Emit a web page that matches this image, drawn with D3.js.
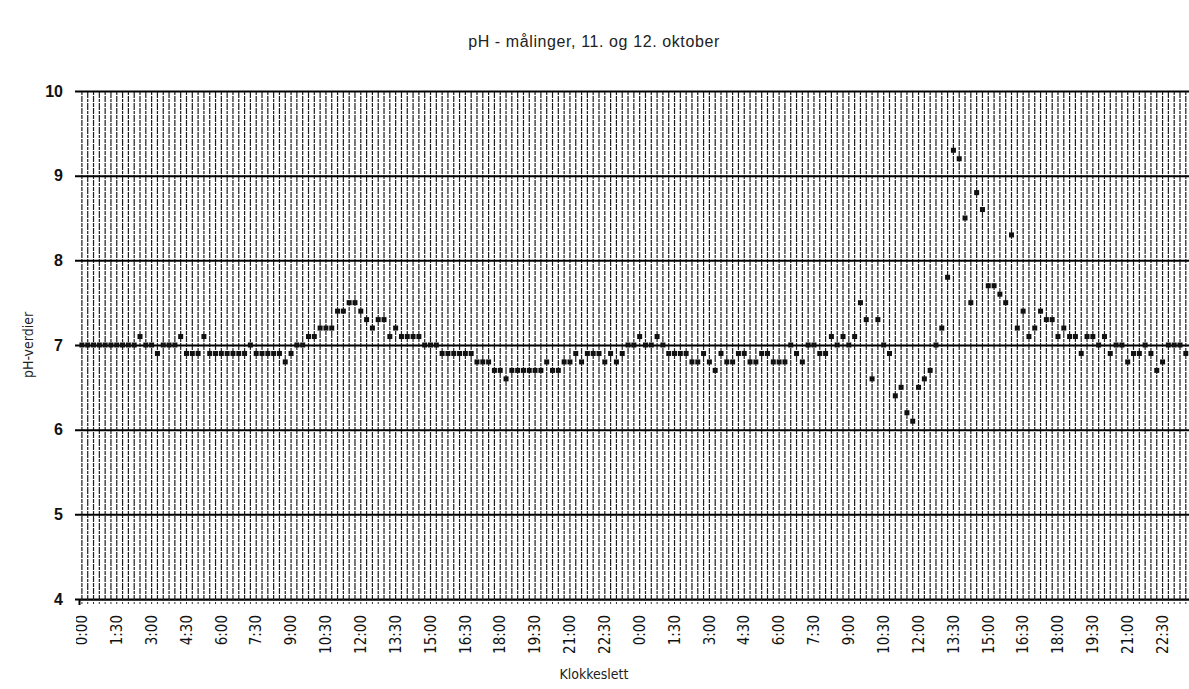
<!DOCTYPE html>
<html>
  <head>
    <title>pH - målinger</title>
    <script src="https://d3js.org/d3.v7.min.js"></script>
    <style>
      body { margin: 0; background: #fff; }
      .cond { font-family: "Liberation Sans Narrow", "DejaVu Sans Condensed", "Arial Narrow", sans-serif; }
    </style>
  </head>
  <body>
    <div id="vis"></div>
    <script>
      // tick labels on the time axis (every 1:30, two days)
      var tickLabels = ["0:00","1:30","3:00","4:30","6:00","7:30","9:00","10:30","12:00","13:30","15:00","16:30",
                        "18:00","19:30","21:00","22:30"];
      var yTicks = [4, 5, 6, 7, 8, 9, 10];

      // pH readings every 15 min, 11. oktober (0:00 - 23:45)
      var day1Values = [7.0,7.0,7.0,7.0,7.0,7.0,7.0,7.0,7.0,7.0,7.1,7.0,7.0,6.9,7.0,7.0,
                        7.0,7.1,6.9,6.9,6.9,7.1,6.9,6.9,6.9,6.9,6.9,6.9,6.9,7.0,6.9,6.9,
                        6.9,6.9,6.9,6.8,6.9,7.0,7.0,7.1,7.1,7.2,7.2,7.2,7.4,7.4,7.5,7.5,
                        7.4,7.3,7.2,7.3,7.3,7.1,7.2,7.1,7.1,7.1,7.1,7.0,7.0,7.0,6.9,6.9,
                        6.9,6.9,6.9,6.9,6.8,6.8,6.8,6.7,6.7,6.6,6.7,6.7,6.7,6.7,6.7,6.7,
                        6.8,6.7,6.7,6.8,6.8,6.9,6.8,6.9,6.9,6.9,6.8,6.9,6.8,6.9,7.0,7.0];
      // 12. oktober (0:00 - 23:30)
      var day2Values = [7.1,7.0,7.0,7.1,7.0,6.9,6.9,6.9,6.9,6.8,6.8,6.9,6.8,6.7,6.9,6.8,
                        6.8,6.9,6.9,6.8,6.8,6.9,6.9,6.8,6.8,6.8,7.0,6.9,6.8,7.0,7.0,6.9,
                        6.9,7.1,7.0,7.1,7.0,7.1,7.5,7.3,6.6,7.3,7.0,6.9,6.4,6.5,6.2,6.1,
                        6.5,6.6,6.7,7.0,7.2,7.8,9.3,9.2,8.5,7.5,8.8,8.6,7.7,7.7,7.6,7.5,
                        8.3,7.2,7.4,7.1,7.2,7.4,7.3,7.3,7.1,7.2,7.1,7.1,6.9,7.1,7.1,7.0,
                        7.1,6.9,7.0,7.0,6.8,6.9,6.9,7.0,6.9,6.7,6.8,7.0,7.0,7.0,6.9];

      var width = 1189;
      var height = 689;

      // category list: "d1-0:00" ... "d2-23:45"
      var times = [];
      ["d1", "d2"].forEach(function(day) {
        for (var m = 0; m < 24 * 60; m += 15) {
          times.push(day + "-" + Math.floor(m / 60) + ":" + (m % 60 === 0 ? "00" : m % 60));
        }
      });

      var data = [];
      day1Values.forEach(function(v, i) { data.push({ t: times[i], ph: v }); });
      day2Values.forEach(function(v, i) { data.push({ t: times[96 + i], ph: v }); });

      var svg = d3.select("#vis")
        .append("svg")
        .attr("width", width)
        .attr("height", height)
        .style("font-family", "Arial, 'Liberation Sans', sans-serif");

      var plotLeft = 79, plotTop = 91, plotBottom = 599;
      var step = 5.81;

      var x = d3.scaleBand()
        .domain(times)
        .range([plotLeft, plotLeft + times.length * step]);

      var y = d3.scaleLinear()
        .domain([4, 10])
        .range([plotBottom, plotTop]);

      var cx = function(t) { return x(t) + x.bandwidth() / 2; };

      svg.append("defs").append("clipPath").attr("id", "plotclip")
        .append("rect").attr("x", plotLeft - 3).attr("y", 0).attr("width", width - plotLeft + 3).attr("height", height);

      // vertical grid, one per reading
      svg.append("g")
        .attr("clip-path", "url(#plotclip)")
        .selectAll("line.vg")
        .data(times)
        .enter()
        .append("line")
        .attr("x1", cx).attr("x2", cx)
        .attr("y1", plotTop).attr("y2", plotBottom)
        .attr("stroke", "#1e1e1e")
        .attr("stroke-width", 1.2)
        .attr("stroke-dasharray", function(d, i) { return i % 2 ? "7,1,3,1" : "4,1,6,1"; });

      // horizontal grid + y labels
      var yAxis = svg.append("g")
        .attr("transform", "translate(" + plotLeft + ",0)")
        .call(d3.axisLeft(y).tickValues(yTicks).tickSize(-(width - plotLeft)).tickPadding(16).tickFormat(d3.format("d")));
      yAxis.select(".domain").remove();
      yAxis.selectAll(".tick line")
        .attr("x1", -4)
        .attr("stroke", "#000")
        .attr("stroke-width", 2);
      yAxis.selectAll(".tick text")
        .attr("fill", "#111")
        .style("font-size", "16px")
        .style("font-weight", "bold");

      // x axis with a tick for every reading
      var xAxis = svg.append("g")
        .attr("transform", "translate(0," + plotBottom + ")")
        .attr("clip-path", "url(#plotclip)")
        .call(d3.axisBottom(x).tickSize(6).tickPadding(8).tickFormat(function(d, i) {
          return i % 6 === 0 ? tickLabels[(i / 6) % 16] : "";
        }));
      xAxis.select(".domain").attr("stroke", "#000").attr("stroke-width", 2);
      xAxis.selectAll(".tick line").attr("stroke", "#333").attr("stroke-dasharray", "2,1");
      xAxis.selectAll(".tick text")
        .attr("class", "cond")
        .attr("fill", "#111")
        .style("font-size", "15px")
        .attr("transform", "rotate(-90)")
        .attr("text-anchor", "end")
        .attr("dy", "0.35em")
        .attr("y", 0)
        .attr("x", -16);

      // readings
      svg.append("g")
        .attr("clip-path", "url(#plotclip)")
        .selectAll("rect.pt")
        .data(data)
        .enter()
        .append("rect")
        .attr("x", function(d) { return cx(d.t) - 2.5; })
        .attr("y", function(d) { return y(d.ph) - 2.5; })
        .attr("width", 5)
        .attr("height", 5)
        .attr("fill", "#111");

      svg.append("text")
        .attr("x", 594)
        .attr("y", 47)
        .attr("text-anchor", "middle")
        .attr("fill", "#222")
        .style("font-size", "16px")
        .style("letter-spacing", "0.6px")
        .text("pH - målinger, 11. og 12. oktober");

      svg.append("text")
        .attr("class", "cond")
        .attr("transform", "translate(33," + y(7) + ") rotate(-90)")
        .attr("text-anchor", "middle")
        .attr("fill", "#222")
        .style("font-size", "14px")
        .text("pH-verdier");

      svg.append("text")
        .attr("class", "cond")
        .attr("x", 594)
        .attr("y", 679)
        .attr("text-anchor", "middle")
        .attr("fill", "#222")
        .style("font-size", "14px")
        .text("Klokkeslett");
    </script>
  </body>
</html>
